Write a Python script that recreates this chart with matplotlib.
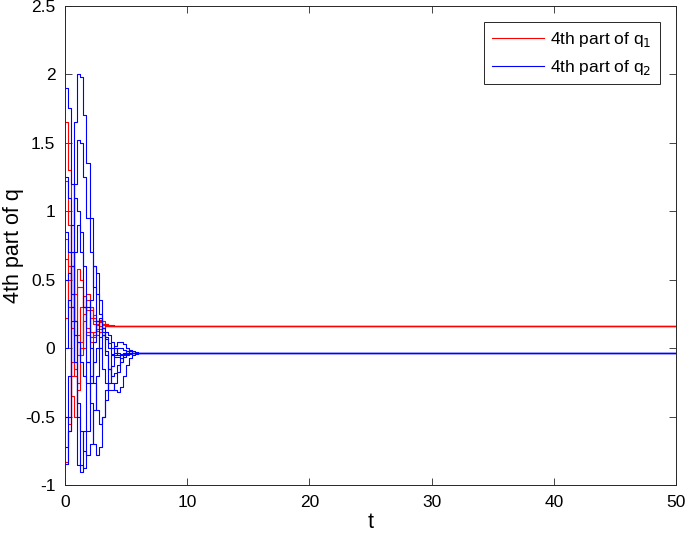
import numpy as np
import matplotlib
matplotlib.use('Agg')
import matplotlib.pyplot as plt

plt.rcParams['font.family'] = ['Liberation Sans', 'DejaVu Sans']

# sample times (zero-order hold)
t_samples = np.arange(0, 7.25, 0.25)
t_end = 50

q1_final = 0.165
q2_final = -0.033

# 4th part of q1 (red), one list per agent
q1_a = [1.65, 1.3, 0.6, 0.1, -0.05, 0.05, 0.2, 0.3, 0.28, 0.22, 0.17, 0.14, 0.15, 0.165, 0.17, 0.168]
q1_b = [-0.83, -0.6, -0.1, 0.4, 0.58, 0.5, 0.3, 0.1, 0.05, 0.1, 0.17, 0.21, 0.2, 0.18, 0.165]
q1_c = [0.8, 0.3, -0.35, -0.5, -0.3, 0.0, 0.25, 0.35, 0.3, 0.2, 0.13, 0.12, 0.15, 0.17]
q1_d = [-0.5, -0.55, -0.2, 0.2, 0.45, 0.45, 0.3, 0.15, 0.08, 0.12, 0.18, 0.2, 0.18, 0.17]
q1_e = [0.22, 0.5, 0.6, 0.4, 0.1, -0.05, 0.0, 0.12, 0.22, 0.24, 0.2, 0.16, 0.15, 0.16]
q1_f = [1.22, 0.9, 0.3, -0.2, -0.25, 0.0, 0.3, 0.4, 0.3, 0.18, 0.1, 0.12, 0.17, 0.175]
q1_g = [0.65, 0.6, 0.15, -0.15, 0.05, 0.3, 0.38, 0.28, 0.12, 0.08, 0.14, 0.19, 0.18, 0.165]

# 4th part of q2 (blue)
q2_a = [1.9, 1.75, 1.2, 0.2, -0.85, -0.9, -0.6, -0.1, 0.35, 0.6, 0.55, 0.35, 0.12, -0.05,
        -0.15, -0.2, -0.18, -0.12, -0.07, -0.04, -0.02, -0.015, -0.02, -0.028, -0.032]
q2_b = [-0.72, -0.5, 0.6, 1.65, 2.0, 1.98, 1.7, 1.35, 0.95, 0.6, 0.4, 0.25, 0.1, -0.02,
        -0.15, -0.25, -0.3, -0.32, -0.28, -0.2, -0.12, -0.07, -0.05, -0.04, -0.035]
q2_c = [-0.84, -0.6, 0.2, 1.2, 1.52, 1.5, 1.25, 0.95, 0.7, 0.45, 0.2, 0.0, -0.15, -0.25,
        -0.3, -0.3, -0.25, -0.17, -0.1, -0.06, -0.04, -0.035]
q2_d = [1.25, 1.1, 0.7, 0.1, -0.5, -0.85, -0.87, -0.6, -0.25, 0.05, 0.2, 0.22, 0.15, 0.07,
        0.0, -0.04, -0.06, -0.06, -0.05, -0.04, -0.035]
q2_e = [0.5, 0.55, 0.3, -0.1, -0.4, -0.6, -0.75, -0.78, -0.7, -0.45, -0.2, 0.0, 0.1, 0.12,
        0.1, 0.05, 0.0, -0.03, -0.05, -0.05, -0.045, -0.038]
q2_f = [-0.5, -0.2, 0.3, 0.7, 0.9, 0.85, 0.6, 0.3, 0.0, -0.25, -0.45, -0.55, -0.5, -0.38,
        -0.25, -0.13, -0.05, 0.0, 0.0, -0.01, -0.02, -0.03]
q2_g = [0.0, 0.35, 0.9, 1.1, 1.0, 0.7, 0.3, -0.1, -0.4, -0.7, -0.78, -0.72, -0.5, -0.3,
        -0.15, -0.05, 0.02, 0.05, 0.05, 0.03, 0.0, -0.02, -0.03]
q2_h = [0.85, 0.7, 0.4, 0.2, 0.05, -0.1, -0.2, -0.25, -0.2, -0.1, 0.0, 0.08, 0.1, 0.08,
        0.04, 0.0, -0.03, -0.045, -0.04, -0.035]

q1_list = [q1_a, q1_b, q1_c, q1_d, q1_e, q1_f, q1_g]
q2_list = [q2_a, q2_b, q2_c, q2_d, q2_e, q2_f, q2_g, q2_h]


def full_series(vals, final):
    # hold the settled value until the end of the run
    vals = list(vals) + [final] * (len(t_samples) - len(vals))
    return np.append(t_samples, t_end), np.array(vals + [final])


fig = plt.figure(figsize=(6.85, 5.41), dpi=100)
ax = fig.add_axes([0.095, 0.1026, 0.892, 0.887])

for i, vals in enumerate(q1_list):
    tt, yy = full_series(vals, q1_final)
    ax.plot(tt, yy, color='#ff0000', lw=0.8, drawstyle='steps-post',
            label='4th part of q$_1$' if i == 0 else None)
for i, vals in enumerate(q2_list):
    tt, yy = full_series(vals, q2_final)
    ax.plot(tt, yy, color='#0000ff', lw=0.8, drawstyle='steps-post',
            label='4th part of q$_2$' if i == 0 else None)

ax.set_xlim(0, 50)
ax.set_ylim(-1, 2.5)
ax.set_xticks(np.arange(0, 51, 10))
ax.set_yticks(np.arange(-1, 2.51, 0.5))
ax.set_yticklabels(['-1', '-0.5', '0', '0.5', '1', '1.5', '2', '2.5'])
ax.tick_params(direction='in', length=5, width=0.6, top=True, right=True,
               labelsize=12.5, pad=7, colors='#262626', labelcolor='black')
for s in ax.spines.values():
    s.set_color('#262626')
    s.set_linewidth(0.7)

ax.set_xlabel('t', fontsize=15.5, labelpad=1)
ax.set_ylabel('4th part of q', fontsize=15.5, labelpad=1)

leg = ax.legend(loc='upper right', fontsize=12.5, fancybox=False, framealpha=1,
                edgecolor='#262626', borderaxespad=0.95, handlelength=3.0,
                handletextpad=0.35, borderpad=0.45, labelspacing=0.5)
leg.get_frame().set_linewidth(0.7)

plt.savefig('out.png', dpi=100)
